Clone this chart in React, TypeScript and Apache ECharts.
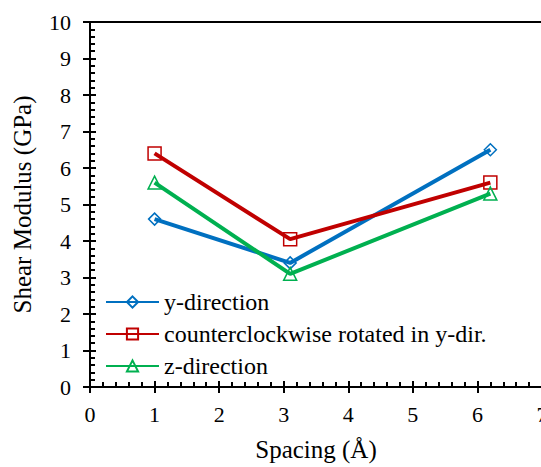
import React, { useEffect, useRef } from "react";
import * as echarts from "echarts";

const spacing = [1, 3.1, 6.2];
const yDirection = [4.6, 3.4, 6.5];
const ccwRotated = [6.4, 4.05, 5.6];
const zDirection = [5.6, 3.1, 5.3];
const seriesNames = ["y-direction", "counterclockwise rotated in y-dir.", "z-direction"];
const seriesColors = ["#0070C0", "#C00000", "#00B050"];
const seriesSymbols = ["diamond", "rect", "triangle"];
const seriesSizes = [12, 13, 13];

const FONT = "Liberation Serif";

export default function App() {
  const ref = useRef<HTMLDivElement>(null);
  useEffect(() => {
    const chart = echarts.init(ref.current!, undefined, { renderer: "svg" });
    const values = [yDirection, ccwRotated, zDirection];
    const axisLine = { show: true, lineStyle: { color: "#000", width: 2 } };
    const tickLabel = { fontFamily: FONT, fontSize: 22, color: "#000" };
    chart.setOption({
      animation: false,
      backgroundColor: "#fff",
      textStyle: { fontFamily: FONT, color: "#000" },
      grid: { left: 90, top: 22, width: 452, height: 365, containLabel: false, outerBoundsMode: "none" },
      legend: {
        left: 105,
        top: 290,
        orient: "vertical",
        padding: 0,
        itemWidth: 53,
        itemHeight: 14,
        itemGap: 8,
        textStyle: { fontFamily: FONT, fontSize: 24, color: "#000" },
        data: seriesNames,
      },
      xAxis: [
        {
          type: "value",
          min: 0,
          max: 7,
          interval: 1,
          position: "bottom",
          name: "Spacing (Å)",
          nameLocation: "middle",
          nameGap: 50,
          nameTextStyle: { fontFamily: FONT, fontSize: 25, color: "#000" },
          axisLine,
          axisTick: { show: true, inside: false, length: 6, lineStyle: { color: "#000", width: 2 } },
          axisLabel: { ...tickLabel, margin: 16, textStyle: tickLabel },
          splitLine: { show: false },
        },
        {
          type: "value",
          min: 0,
          max: 7,
          interval: 1,
          position: "bottom",
          axisLine,
          axisTick: { show: true, inside: true, length: 6, lineStyle: { color: "#000", width: 2 } },
          minorTick: { show: true, splitNumber: 5, length: 5, lineStyle: { color: "#000", width: 2 } },
          axisLabel: { show: false },
          splitLine: { show: false },
        },
        {
          type: "value",
          min: 0,
          max: 7,
          interval: 1,
          position: "top",
          axisLine,
          axisTick: { show: false },
          axisLabel: { show: false },
          splitLine: { show: false },
        },
      ],
      yAxis: [
        {
          type: "value",
          min: 0,
          max: 10,
          interval: 1,
          position: "left",
          name: "Shear Modulus (GPa)",
          nameLocation: "middle",
          nameGap: 55,
          nameTextStyle: { fontFamily: FONT, fontSize: 25, color: "#000" },
          axisLine,
          axisTick: { show: true, inside: false, length: 7, lineStyle: { color: "#000", width: 2 } },
          axisLabel: { ...tickLabel, margin: 19, textStyle: tickLabel },
          splitLine: { show: false },
        },
        {
          type: "value",
          min: 0,
          max: 10,
          interval: 1,
          position: "left",
          axisLine,
          axisTick: { show: true, inside: true, length: 6, lineStyle: { color: "#000", width: 2 } },
          minorTick: { show: true, splitNumber: 5, length: 5, lineStyle: { color: "#000", width: 2 } },
          axisLabel: { show: false },
          splitLine: { show: false },
        },
      ],
      series: seriesNames.map((name, i) => ({
        name,
        type: "line",
        xAxisIndex: 0,
        yAxisIndex: 0,
        data: spacing.map((x, j) => [x, values[i][j]]),
        symbol: seriesSymbols[i],
        symbolSize: seriesSizes[i],
        showAllSymbol: true,
        lineStyle: { color: seriesColors[i], width: 4 },
        itemStyle: { color: "rgba(255,255,255,0)", borderColor: seriesColors[i], borderWidth: 1.5 },
        emphasis: { disabled: true },
      })),
    });
    return () => chart.dispose();
  }, []);
  return (
    <div
      ref={ref}
      style={{ position: "absolute", left: 0, top: 0, width: 541, height: 467, overflow: "hidden" }}
    />
  );
}
